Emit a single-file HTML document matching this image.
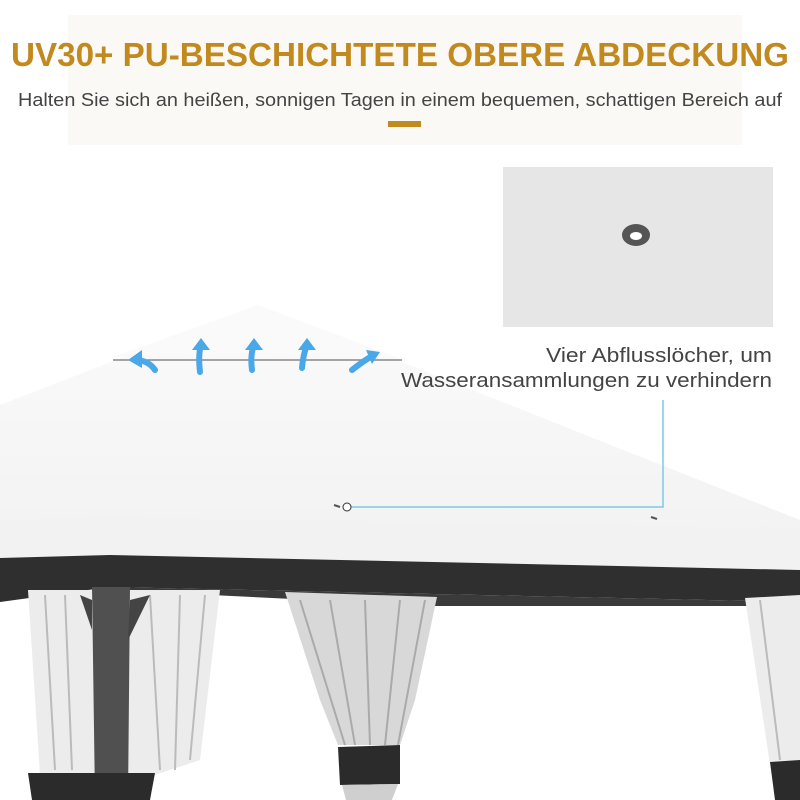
<!DOCTYPE html>
<html><head><meta charset="utf-8"><style>
html,body{margin:0;padding:0;background:#fff;}
svg{display:block;}
</style></head><body>
<svg width="800" height="800" viewBox="0 0 800 800" xmlns="http://www.w3.org/2000/svg">
<defs>
<linearGradient id="rg" x1="0" y1="0" x2="0" y2="1">
<stop offset="0" stop-color="#fbfbfb"/><stop offset="1" stop-color="#f1f1f1"/>
</linearGradient>
</defs>
<rect x="0" y="0" width="800" height="800" fill="#ffffff"/>
<rect x="68" y="15" width="674" height="130" fill="#faf9f5"/>
<text x="400" y="66" text-anchor="middle" font-family="Liberation Sans, sans-serif" font-weight="bold" font-size="33" fill="#c2891f" textLength="778" lengthAdjust="spacingAndGlyphs">UV30+ PU-BESCHICHTETE OBERE ABDECKUNG</text>
<text x="400" y="106" text-anchor="middle" font-family="Liberation Sans, sans-serif" font-size="18" fill="#444" textLength="764" lengthAdjust="spacingAndGlyphs">Halten Sie sich an heißen, sonnigen Tagen in einem bequemen, schattigen Bereich auf</text>
<rect x="388" y="121" width="33" height="6" fill="#c2891f"/>

<rect x="503" y="167" width="270" height="160" fill="#e6e6e6"/>
<ellipse cx="636" cy="235" rx="14" ry="11" fill="#555"/>
<ellipse cx="636" cy="236" rx="6" ry="4" fill="#fff"/>

<!-- roof -->
<polygon points="0,405 258,305 800,520 800,570 110,555 0,560" fill="url(#rg)"/>
<polygon points="0,520 110,517 800,530 800,570 110,555 0,560" fill="#f2f2f2"/>
<polygon points="113,357 258,305 402,359 260,352" fill="#fafafa"/>
<line x1="113" y1="360" x2="402" y2="360" stroke="#888" stroke-width="1.5"/>
<!-- dark frame -->
<polygon points="0,558 110,555 800,570 800,602 110,587 0,602" fill="#2f2f2f"/>
<polygon points="110,587 800,602 800,606 435,606 110,590" fill="#3a3a3a"/>

<!-- curtains -->
<polygon points="28,590 220,590 200,760 155,775 40,775" fill="#ececec"/>
<g stroke="#bbb" stroke-width="2">
<line x1="45" y1="595" x2="55" y2="770"/><line x1="65" y1="595" x2="72" y2="770"/>
<line x1="150" y1="595" x2="160" y2="770"/><line x1="180" y1="595" x2="175" y2="770"/><line x1="205" y1="595" x2="190" y2="760"/>
</g>
<polygon points="92,587 130,587 128,800 95,800" fill="#505050"/>
<polygon points="130,600 150,595 128,640" fill="#444"/>
<polygon points="80,595 92,600 92,630" fill="#444"/>
<polygon points="28,773 155,773 150,800 32,800" fill="#2b2b2b"/>

<polygon points="285,592 437,597 415,700 400,745 338,745 320,700" fill="#d8d8d8"/>
<g stroke="#aaa" stroke-width="2">
<line x1="300" y1="600" x2="345" y2="745"/><line x1="330" y1="600" x2="355" y2="745"/>
<line x1="365" y1="600" x2="370" y2="745"/><line x1="400" y1="600" x2="385" y2="745"/><line x1="425" y1="600" x2="398" y2="745"/>
</g>
<polygon points="338,747 400,745 400,784 340,785" fill="#2b2b2b"/>
<polygon points="342,785 398,784 392,800 346,800" fill="#cfcfcf"/>

<polygon points="745,598 800,595 800,765 770,765" fill="#ececec"/>
<line x1="760" y1="600" x2="780" y2="760" stroke="#bbb" stroke-width="2"/>
<polygon points="770,762 800,760 800,800 775,800" fill="#2b2b2b"/>

<!-- blue arrows -->
<g fill="none" stroke="#4aa8e8" stroke-width="6" stroke-linecap="round">
<path d="M155,370 Q148,360 135,360"/><path d="M200,372 Q198,355 201,345"/>
<path d="M252,370 Q250,355 254,345"/><path d="M302,368 Q303,355 307,345"/><path d="M352,370 Q362,362 372,356"/>
</g>
<g fill="#4aa8e8">
<polygon points="128,360 142,350 142,368"/><polygon points="201,338 192,350 210,350"/>
<polygon points="254,338 245,350 263,350"/><polygon points="307,338 298,350 316,350"/><polygon points="380,352 366,350 372,364"/>
</g>

<text x="772" y="362" text-anchor="end" font-family="Liberation Sans, sans-serif" font-size="20" fill="#444" textLength="226" lengthAdjust="spacingAndGlyphs">Vier Abflusslöcher, um</text>
<text x="772" y="387" text-anchor="end" font-family="Liberation Sans, sans-serif" font-size="20" fill="#444" textLength="371" lengthAdjust="spacingAndGlyphs">Wasseransammlungen zu verhindern</text>
<polyline points="663,400 663,507 351,507" fill="none" stroke="#7ec8e8" stroke-width="1.5"/>
<circle cx="347" cy="507" r="4" fill="#fff" stroke="#333" stroke-width="1"/>
<line x1="334" y1="505" x2="340" y2="507" stroke="#555" stroke-width="2"/>
<line x1="651" y1="517" x2="657" y2="519" stroke="#555" stroke-width="2"/>
</svg>
</body></html>
